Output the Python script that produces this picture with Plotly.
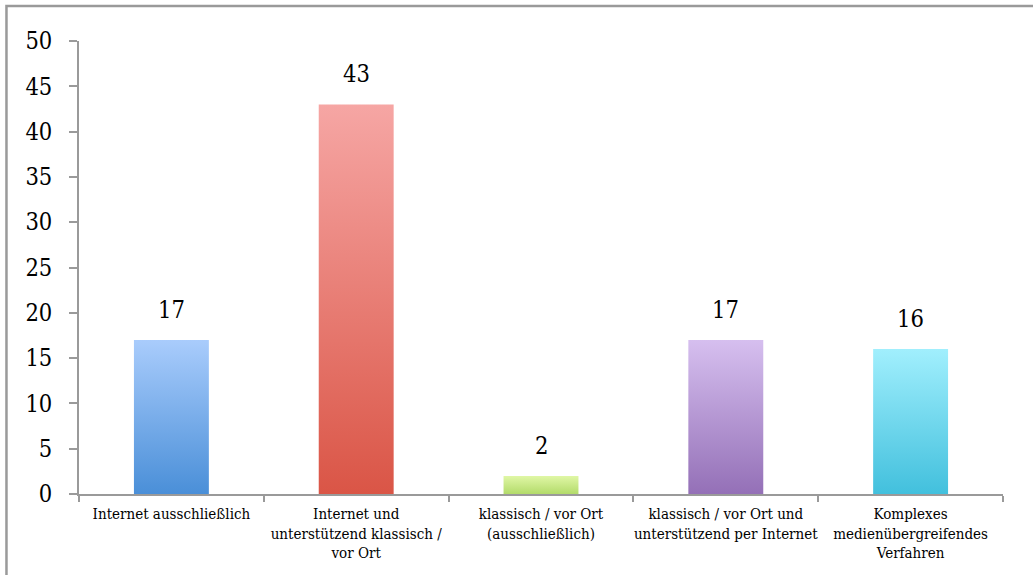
import plotly.graph_objects as go

categories = [
    "Internet ausschließlich",
    "Internet und<br>unterstützend klassisch /<br>vor Ort",
    "klassisch / vor Ort<br>(ausschließlich)",
    "klassisch / vor Ort und<br>unterstützend per Internet",
    "Komplexes<br>medienübergreifendes<br>Verfahren",
]
values = [17, 43, 2, 17, 16]
top_colors = ["#A9CCFC", "#F6A6A4", "#E0F7A6", "#D6BFEF", "#A1EFFD"]
bottom_colors = ["#4A8FD8", "#DA5546", "#B3DB6A", "#9470B7", "#42C0DD"]
y_ticks = [0, 5, 10, 15, 20, 25, 30, 35, 40, 45, 50]

FONT = "DejaVu Serif Condensed, Liberation Serif, serif"
half_w = 0.2027

fig = go.Figure()
for i, (v, tc, bc) in enumerate(zip(values, top_colors, bottom_colors)):
    fig.add_trace(go.Scatter(
        x=[i - half_w, i + half_w, i + half_w, i - half_w, i - half_w],
        y=[0, 0, v, v, 0],
        mode="lines",
        line=dict(width=0, color=bc),
        fill="toself",
        fillgradient=dict(type="vertical", start=0, stop=v,
                          colorscale=[[0, bc], [1, tc]]),
        hoverinfo="skip",
        showlegend=False,
    ))
    fig.add_annotation(x=i, y=v, text=str(v), showarrow=False,
                       yanchor="bottom", yshift=14,
                       font=dict(family=FONT, size=23.5, color="#000"))

n = len(categories)
fig.update_xaxes(
    range=[-0.5, n - 0.5],
    tickmode="array", tickvals=list(range(n)), ticktext=categories,
    ticks="", showline=True, linecolor="#9a9a9a", linewidth=2,
    showgrid=False, zeroline=False,
    tickfont=dict(family=FONT, size=15, color="#000"),
    minor=dict(tickvals=[i - 0.5 for i in range(n + 1)], ticks="outside",
               ticklen=6, tickwidth=2, tickcolor="#9a9a9a", showgrid=False),
    ticklabelstandoff=5,
    fixedrange=True,
)
fig.update_yaxes(
    range=[0, 50], tickmode="array", tickvals=y_ticks,
    ticks="outside", ticklen=8, tickwidth=2, tickcolor="#9a9a9a",
    showline=True, linecolor="#9a9a9a", linewidth=2,
    showgrid=False, zeroline=False,
    tickfont=dict(family=FONT, size=23.5, color="#000"),
    ticklabelstandoff=12,
    fixedrange=True,
)
fig.add_shape(type="rect", xref="paper", yref="paper",
              x0=-0.0785, x1=1.2, y0=-0.4, y1=1.0773,
              line=dict(color="#9a9a9a", width=2.5), layer="below")
fig.update_layout(
    width=1033, height=575,
    margin=dict(l=79, r=30, t=41, b=81),
    plot_bgcolor="white", paper_bgcolor="white",
    showlegend=False,
)
fig.write_html("out.html")
